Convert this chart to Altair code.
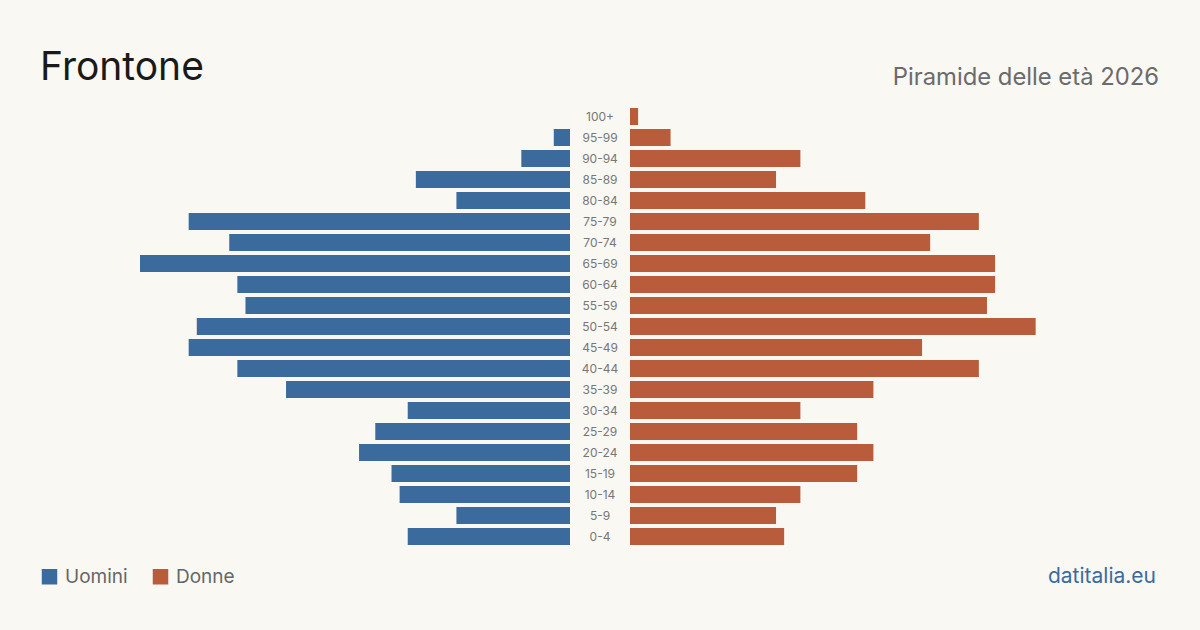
import altair as alt
import pandas as pd

ages = ["100+", "95-99", "90-94", "85-89", "80-84", "75-79", "70-74", "65-69",
        "60-64", "55-59", "50-54", "45-49", "40-44", "35-39", "30-34", "25-29",
        "20-24", "15-19", "10-14", "5-9", "0-4"]
uomini = [0, 2, 6, 19, 14, 47, 42, 53, 41, 40, 46, 47, 41, 35, 20, 24, 26, 22, 21, 14, 20]
donne = [1, 5, 21, 18, 29, 43, 37, 45, 45, 44, 50, 36, 43, 30, 21, 28, 30, 28, 21, 18, 19]

BG = "#f9f8f3"
BLUE = "#3b6b9c"
ORANGE = "#b95c3c"
FONT = "Inter"

rows = []
for a, m, f in zip(ages, uomini, donne):
    rows.append({"eta": a, "sesso": "Uomini", "n": m})
    rows.append({"eta": a, "sesso": "Donne", "n": f})
df = pd.DataFrame(rows)
vmax = max(max(uomini), max(donne))

yscale = alt.Scale(domain=ages, range=[106, 547], paddingInner=0.19, paddingOuter=0.095)
color = alt.Color(
    "sesso:N",
    scale=alt.Scale(domain=["Uomini", "Donne"], range=[BLUE, ORANGE]),
    legend=alt.Legend(
        orient="none", legendX=40, legendY=567, direction="horizontal",
        title=None, symbolType="square", symbolSize=240, symbolStrokeWidth=0,
        symbolOpacity=1, labelFont=FONT, labelFontSize=19, labelColor="#666666",
        labelOffset=6, columnPadding=23,
    ),
)

base = alt.Chart(df)
left = base.transform_filter(alt.datum.sesso == "Uomini").mark_bar().encode(
    x=alt.X("n:Q", scale=alt.Scale(domain=[0, vmax], range=[570, 140]), axis=None),
    y=alt.Y("eta:N", scale=yscale, axis=None),
    color=color,
)
right = base.transform_filter(alt.datum.sesso == "Donne").mark_bar().encode(
    x=alt.X("n:Q", scale=alt.Scale(domain=[0, vmax], range=[630, 1060]), axis=None),
    y=alt.Y("eta:N", scale=yscale, axis=None),
    color=color,
)
labels = alt.Chart(pd.DataFrame({"eta": ages})).mark_text(
    font=FONT, fontSize=12, color="#777777", align="center", baseline="middle"
).encode(
    x=alt.value(600),
    y=alt.Y("eta:N", scale=yscale, axis=None),
    text="eta:N",
)

def txt(s, x, y, size, col, align="left", weight="normal"):
    return alt.Chart(pd.DataFrame({"t": [s]})).mark_text(
        font=FONT, fontSize=size, color=col, align=align, baseline="alphabetic",
        fontWeight=weight,
    ).encode(x=alt.value(x), y=alt.value(y), text="t:N")

title = txt("Frontone", 40, 80, 39, "#1a1a1a")
subtitle = txt("Piramide delle età 2026", 1159, 85, 23.8, "#6b6b6b", align="right")
source = txt("datitalia.eu", 1156, 583, 21, BLUE, align="right")

chart = alt.layer(left, right, labels, title, subtitle, source).resolve_scale(
    x="independent"
).properties(
    width=1200, height=630, background=BG,
    autosize=alt.AutoSizeParams(type="none"), padding=0,
).configure_view(stroke=None)

chart.save("out.html", embed_options={"renderer": "svg", "actions": False})
